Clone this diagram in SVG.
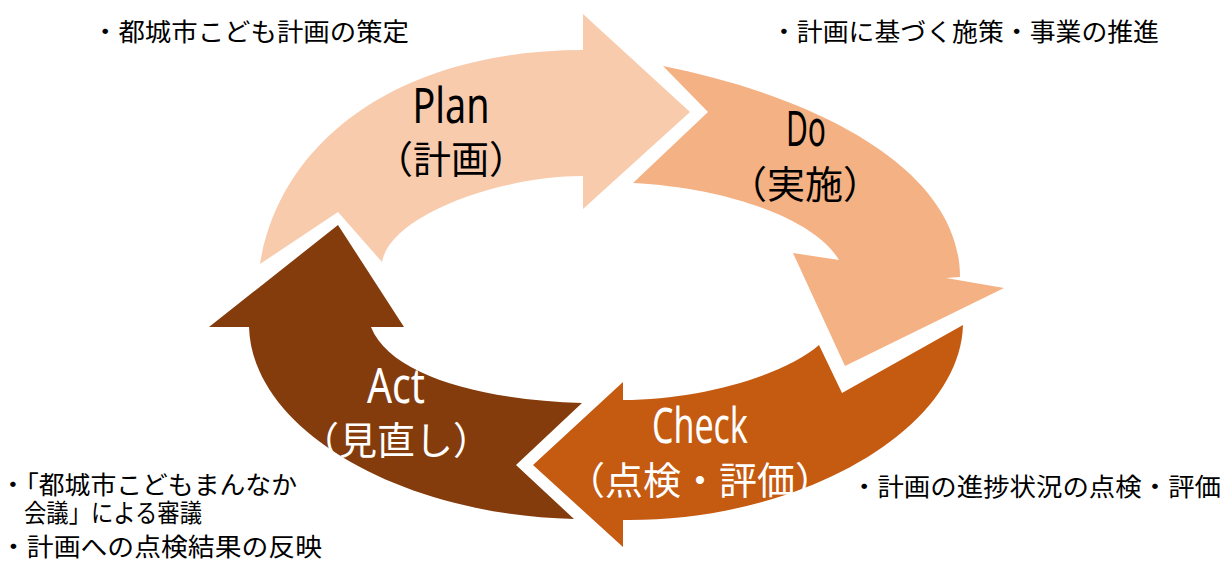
<svg xmlns="http://www.w3.org/2000/svg" width="1222" height="562" viewBox="0 0 1222 562">
<style>
.lat{font-family:"Noto Sans","Noto Sans CJK JP",sans-serif;font-size:50px;text-anchor:middle;}
.par{font-family:"Noto Sans CJK JP",sans-serif;font-size:38px;text-anchor:middle;}
.note{font-family:"Noto Sans CJK JP",sans-serif;font-size:25px;fill:#000;}
.dark{fill:#000;}
.light{fill:#fff;}
</style>
<rect width="1222" height="562" fill="#fff"/>
<g id="plan">
<path fill="#F8CBAD" d="M260,264 C280,140 400,50 583,50 L583,14 L690,112 L583,209 L583,176 C500,176 390,215 382,262 L338,212 Z"/>
<text class="lat dark" x="451" y="123" textLength="77" lengthAdjust="spacingAndGlyphs">Plan</text>
<text class="par dark" x="451" y="173">（計画）</text>
</g>
<g id="do">
<path fill="#F4B183" d="M663,66 C813,96 960,167 960,277 L946,278 L1004,288 L845,366 L793,253 L839,260 C815,220 730,188 633,183 L708,112 Z"/>
<text class="lat dark" x="806" y="146" textLength="40" lengthAdjust="spacingAndGlyphs">Do</text>
<text class="par dark" x="805" y="198">（実施）</text>
</g>
<g id="check">
<path fill="#C55A11" d="M963,325 C960,430 800,522 623,520 L623,547 L533,465 L623,382 L623,400 C700,400 785,375 819,345 L842,393 Z"/>
<text class="lat light" x="700" y="443" textLength="96" lengthAdjust="spacingAndGlyphs">Check</text>
<text class="par light" x="700" y="494">（点検・評価）</text>
</g>
<g id="act">
<path fill="#843C0C" d="M338,225 L404,327 L371,327 C390,375 480,400 582,403 L516,465 L574,519 C400,515 252,430 249,327 L209,327 Z"/>
<text class="lat light" x="396" y="403" textLength="58" lengthAdjust="spacingAndGlyphs">Act</text>
<text class="par light" x="396" y="454">（見直し）</text>
</g>
<g id="connectors"></g>
<g id="notes">
<text class="note" x="92" y="41" textLength="317" lengthAdjust="spacingAndGlyphs">・都城市こども計画の策定</text>
<text class="note" x="771" y="41" textLength="388" lengthAdjust="spacingAndGlyphs">・計画に基づく施策・事業の推進</text>
<text class="note" x="851" y="496" textLength="370" lengthAdjust="spacingAndGlyphs">・計画の進捗状況の点検・評価</text>
<text class="note" x="0" y="494" textLength="297" lengthAdjust="spacingAndGlyphs">・「都城市こどもまんなか</text>
<text class="note" x="24" y="522" textLength="178" lengthAdjust="spacingAndGlyphs">会議」による審議</text>
<text class="note" x="0" y="556" textLength="322" lengthAdjust="spacingAndGlyphs">・計画への点検結果の反映</text>
</g>
</svg>
